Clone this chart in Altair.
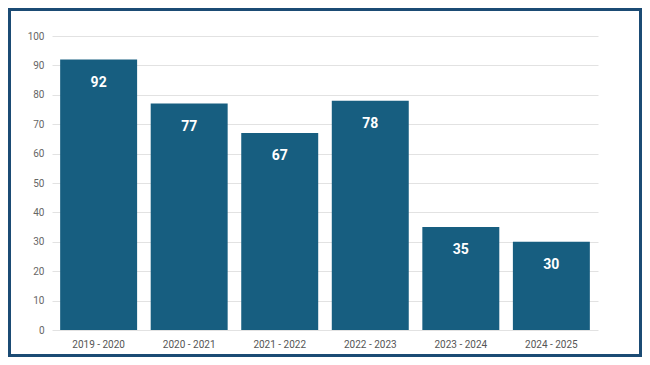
import altair as alt
import pandas as pd

periods = ["2019 - 2020", "2020 - 2021", "2021 - 2022", "2022 - 2023", "2023 - 2024", "2024 - 2025"]
values = [92, 77, 67, 78, 35, 30]
y_ticks = [0, 10, 20, 30, 40, 50, 60, 70, 80, 90, 100]

df = pd.DataFrame({"period": periods, "value": values})

W, H = 546, 294
BAR = "#175e80"
FONT = "Roboto"

base = alt.Chart(df).encode(
    x=alt.X("period:N", sort=periods,
            scale=alt.Scale(paddingInner=0.15, paddingOuter=0.09),
            axis=alt.Axis(title=None, labelAngle=0, domain=False, ticks=False,
                          labelPadding=9, labelFontSize=10, labelColor="#555555",
                          labelFont=FONT, grid=False)),
    y=alt.Y("value:Q", scale=alt.Scale(domain=[0, 100], nice=False),
            axis=alt.Axis(title=None, values=y_ticks, domain=False, ticks=False,
                          labelPadding=8, labelFontSize=10, labelColor="#666666",
                          labelFont=FONT, gridColor="#e2e2e2", gridWidth=1)),
)

bars = base.mark_bar(color=BAR)
labels = base.mark_text(color="white", fontWeight="bold", fontSize=14, font=FONT,
                        baseline="middle", dy=23).encode(text="value:Q")

border = alt.Chart(pd.DataFrame({"a": [0]})).mark_rect(
    fill=None, stroke="#1b4b74", strokeWidth=3
).encode(
    x=alt.value(-42.5), x2=alt.value(W + 42.5),
    y=alt.value(-26.5), y2=alt.value(H + 25.5)
)

chart = alt.layer(bars, labels, border).properties(
    width=W, height=H,
    autosize=alt.AutoSizeParams(type="none"),
    padding={"left": 44, "top": 28, "right": 44, "bottom": 27},
    background="white",
).configure_view(stroke=None)

chart.save("out.html", embed_options={"renderer": "svg", "actions": False})
